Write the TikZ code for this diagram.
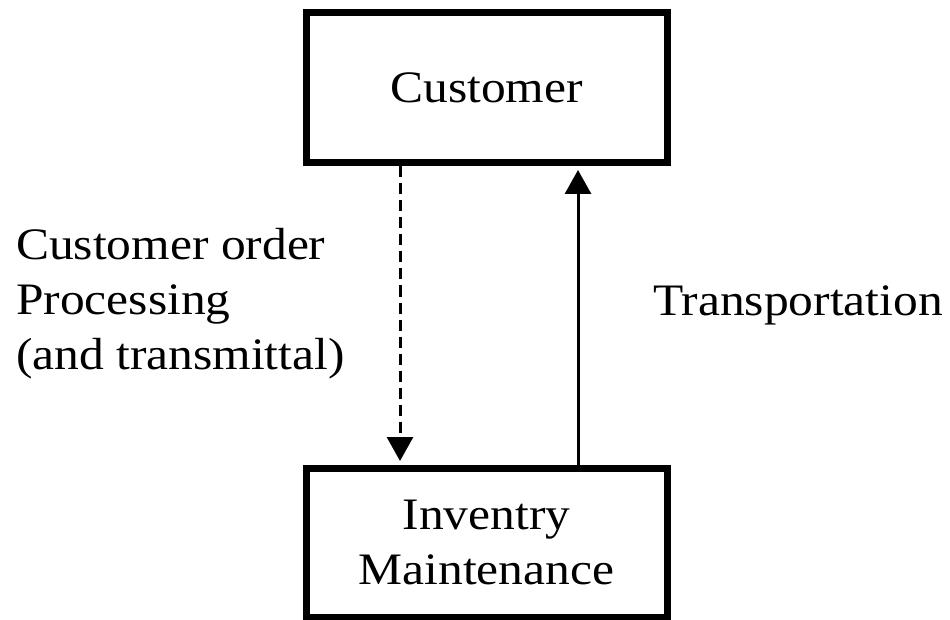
\documentclass[tikz,border=0pt]{standalone}
\usepackage{fontspec}
\setmainfont{Liberation Serif}[FakeStretch=1.1]
\usetikzlibrary{arrows.meta}
\begin{document}
\begin{tikzpicture}[x=1pt,y=-1pt,
  every node/.style={font=\fontsize{45}{55}\selectfont},
  block/.style={draw=black,line width=7pt,minimum width=361pt,align=center,inner sep=0pt},
  label/.style={inner sep=0pt,align=left},
  flow/.style={line width=3pt,-{Triangle[length=24pt,width=26pt]}},
  request/.style={flow,dash pattern=on 11pt off 6pt}]
  \useasboundingbox[fill=white] (0,0) rectangle (950,620);

  % the two stations
  \node[block,minimum height=150pt] (cust) at (486.5,88) {Customer};
  \node[block,minimum height=149pt] (inv) at (486.5,542.5) {Inventry\\Maintenance};

  % order flow down, goods flow up
  \draw[request,shorten >=3.5pt] (cust.south -| 400,0) -- (inv.north -| 400,0);
  \draw[flow,shorten >=3.5pt] (inv.north -| 578,0) -- (cust.south -| 578,0);

  % flow labels
  \node[label,anchor=west] (order) at (16,304) {Customer order\\Processing\\(and transmittal)};
  \node[label,anchor=base west] (trans) at (653,315) {Transportation};
\end{tikzpicture}
\end{document}
